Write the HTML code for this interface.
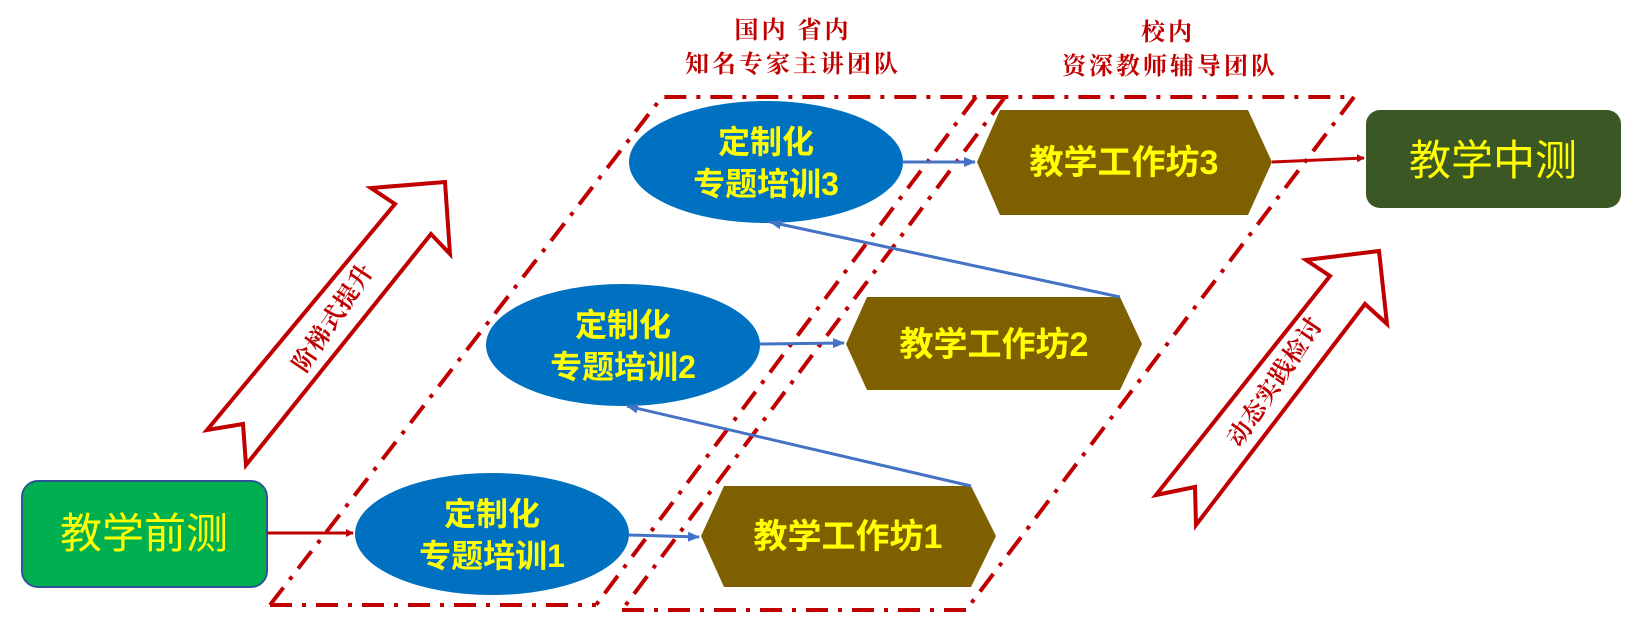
<!DOCTYPE html>
<html><head><meta charset="utf-8"><style>
html,body{margin:0;padding:0;background:#fff;}
svg{display:block;}
.lab{font-family:"Liberation Serif","Noto Serif CJK SC",serif;fill:#c00000;font-size:24px;letter-spacing:3px;font-weight:bold;}
.el{font-family:"Liberation Sans","Noto Sans CJK SC",sans-serif;fill:#ffff00;font-weight:bold;font-size:32px;}
.hx{font-family:"Liberation Sans","Noto Sans CJK SC",sans-serif;fill:#ffff00;font-weight:bold;font-size:34px;}
.bx{font-family:"Liberation Sans","Noto Sans CJK SC",sans-serif;fill:#ffff00;font-size:42px;}
</style></head><body>
<svg width="1637" height="628" viewBox="0 0 1637 628" xmlns="http://www.w3.org/2000/svg">
<defs>
<marker id="ar" markerWidth="8" markerHeight="8" refX="7" refY="4" orient="auto" markerUnits="userSpaceOnUse"><path d="M0,0 L8,4 L0,8 z" fill="#c00000"/></marker>
<marker id="ab" markerWidth="12" markerHeight="10" refX="11" refY="5" orient="auto" markerUnits="userSpaceOnUse"><path d="M0,0 L12,5 L0,10 z" fill="#4472c4"/></marker>
</defs>
<text class="lab" x="793" y="38" text-anchor="middle">国内 省内</text>
<text class="lab" x="793" y="72" text-anchor="middle">知名专家主讲团队</text>
<text class="lab" x="1168" y="40" text-anchor="middle">校内</text>
<text class="lab" x="1170" y="74" text-anchor="middle">资深教师辅导团队</text>

<g fill="none" stroke="#c00000" stroke-width="4" stroke-dasharray="22,10,4,10">
<polyline points="270,605 662,97 1354,97"/>
<line x1="976" y1="97" x2="596" y2="605"/>
<line x1="270" y1="605" x2="596" y2="605"/>
<line x1="1005" y1="97" x2="622" y2="610"/>
<line x1="622" y1="610" x2="966" y2="610"/>
<line x1="1354" y1="97" x2="966" y2="610"/>
</g>

<polygon points="207,430 395,204 371,188 445,182 450,254 431,234 246,465 243,424" fill="#fff" stroke="#c00000" stroke-width="4"/>
<text class="lab" x="0" y="0" transform="translate(334,318) rotate(-56)" text-anchor="middle" dominant-baseline="central" style="letter-spacing:1px;font-size:24px">阶梯式提升</text>
<polygon points="1156,495 1330,276 1306,260 1379,251 1387,324 1365,304 1196,525 1195,487" fill="#fff" stroke="#c00000" stroke-width="4"/>
<text class="lab" x="0" y="0" transform="translate(1276,382) rotate(-56)" text-anchor="middle" dominant-baseline="central" style="letter-spacing:1px;font-size:24px">动态实践检讨</text>

<rect x="22" y="481" width="245" height="106" rx="16" fill="#00b050" stroke="#2f5597" stroke-width="2"/>
<text class="bx" x="144" y="548" text-anchor="middle">教学前测</text>
<rect x="1366" y="110" width="255" height="98" rx="14" fill="#3a5724"/>
<text class="bx" x="1493" y="175" text-anchor="middle">教学中测</text>

<polygon points="701,536 724,486 971,486 996,536 971,587 724,587" fill="#7f6000"/>
<text class="hx" x="848" y="548" text-anchor="middle">教学工作坊1</text>
<polygon points="846,344 867,297 1120,297 1142,344 1120,390 867,390" fill="#7f6000"/>
<text class="hx" x="994" y="356" text-anchor="middle">教学工作坊2</text>
<polygon points="977,162 1000,110 1248,110 1272,162 1248,215 1000,215" fill="#7f6000"/>
<text class="hx" x="1124" y="174" text-anchor="middle">教学工作坊3</text>

<ellipse cx="492" cy="534" rx="137" ry="61" fill="#0070c0"/>
<text class="el" x="492" y="525" text-anchor="middle">定制化</text>
<text class="el" x="492" y="567" text-anchor="middle">专题培训1</text>
<ellipse cx="623" cy="345" rx="137" ry="61" fill="#0070c0"/>
<text class="el" x="623" y="336" text-anchor="middle">定制化</text>
<text class="el" x="623" y="378" text-anchor="middle">专题培训2</text>
<ellipse cx="766" cy="162" rx="137" ry="61" fill="#0070c0"/>
<text class="el" x="766" y="153" text-anchor="middle">定制化</text>
<text class="el" x="766" y="195" text-anchor="middle">专题培训3</text>

<g stroke-width="3" fill="none">
<line x1="267" y1="533" x2="353" y2="533" stroke="#c00000" marker-end="url(#ar)"/>
<line x1="1272" y1="162" x2="1364" y2="158" stroke="#c00000" marker-end="url(#ar)"/>
<line x1="629" y1="535" x2="699" y2="537" stroke="#4472c4" marker-end="url(#ab)"/>
<line x1="760" y1="344" x2="844" y2="343" stroke="#4472c4" marker-end="url(#ab)"/>
<line x1="902" y1="162" x2="975" y2="162" stroke="#4472c4" marker-end="url(#ab)"/>
<line x1="971" y1="486" x2="627" y2="406" stroke="#4472c4" marker-end="url(#ab)"/>
<line x1="1120" y1="297" x2="770" y2="222" stroke="#4472c4" marker-end="url(#ab)"/>
</g>
</svg>
</body></html>
